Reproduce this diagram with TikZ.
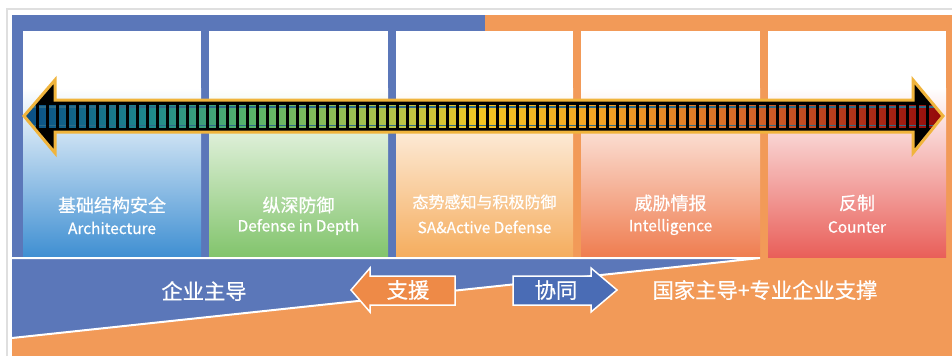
\documentclass[tikz,border=0pt]{standalone}
\usepackage{fontspec}
\setmainfont{Noto Sans CJK SC}[FakeBold=0.6]

\definecolor{frameblue}{HTML}{5B77B9}
\definecolor{frameorange}{HTML}{F29A58}
\definecolor{boxblue}{HTML}{3F8FD2}
\definecolor{boxgreen}{HTML}{82C46C}
\definecolor{boxamber}{HTML}{F5AD5E}
\definecolor{boxcoral}{HTML}{EF7D50}
\definecolor{boxred}{HTML}{E95F59}
\definecolor{rimgold}{HTML}{F0B43C}
\definecolor{stripteal}{HTML}{2E6C8A}
\definecolor{helporange}{HTML}{EE8A47}
\definecolor{helpblue}{HTML}{4A6CB5}
\definecolor{spa}{HTML}{0B4F86}
\definecolor{spb}{HTML}{1F8A8C}
\definecolor{spc}{HTML}{58B46A}
\definecolor{spd}{HTML}{B9C448}
\definecolor{spe}{HTML}{F2C623}
\definecolor{spf}{HTML}{F4A325}
\definecolor{spg}{HTML}{D4652A}
\definecolor{sph}{HTML}{AE3119}
\definecolor{spi}{HTML}{950A0A}

\pgfdeclarehorizontalshading{spectrum}{100bp}{color(0bp)=(spa); color(25bp)=(spa);
  color(31.8bp)=(spb); color(37.2bp)=(spc); color(45.4bp)=(spd); color(49.8bp)=(spe);
  color(56.4bp)=(spf); color(64.6bp)=(spg); color(70.6bp)=(sph); color(75bp)=(spi);
  color(100bp)=(spi)}

\begin{document}
\begin{tikzpicture}[x=1pt,y=-1pt,
  coltitle/.style={text=white,font=\fontsize{18}{20}\selectfont},
  colsub/.style={text=white,font=\fontsize{15.4}{18}\selectfont},
  bandtext/.style={text=white,font=\fontsize{21.3}{25}\selectfont}]
\useasboundingbox (0,0) rectangle (952,356);
\fill[white] (0,0) rectangle (952,356);
\draw[gray!25,line width=1.5] (7,356) -- (7,9) -- (952,9);
\fill[frameblue] (12,15) rectangle (485,258);
\fill[frameorange] (485,15) rectangle (952,258);
\fill[frameorange] (12,258) rectangle (952,356);

\fill[white] (23,31) rectangle (201,257);
\fill[white] (209,31) rectangle (388,257);
\fill[white] (396,31) rectangle (573,257);
\fill[white] (581,31) rectangle (760,257);
\fill[white] (768,31) rectangle (946,257);
\shade[top color=white,bottom color=boxblue] (23,88) rectangle (201,257);
\shade[top color=white,bottom color=boxgreen] (209,88) rectangle (388,257);
\shade[top color=white,bottom color=boxamber] (396,88) rectangle (573,257);
\shade[top color=white,bottom color=boxcoral] (581,88) rectangle (760,257);
\shade[top color=white,bottom color=boxred] (768,88) rectangle (946,257);

\begin{scope}
\clip (24,116) -- (55,80) -- (55,100) -- (913,100) -- (913,80) -- (943,116)
  -- (913,153) -- (913,132) -- (55,132) -- (55,153) -- cycle;
\fill[black] (0,70) rectangle (952,160);
\shade[shading=spectrum] (26,105) rectangle (941,127);
\draw[stripteal,line width=1.5] (26,107) -- (941,107);
\draw[stripteal,line width=1.5] (26,125.5) -- (941,125.5);
\foreach \x in {36,46,...,926}
  \fill[black] (\x,104) rectangle (\x+3,128);
\end{scope}
\draw[rimgold,line width=3,line join=miter] (24,116) -- (55,80) -- (55,100) -- (913,100)
  -- (913,80) -- (943,116) -- (913,153) -- (913,132) -- (55,132) -- (55,153) -- cycle;

\node[coltitle] (arch) at (112,205) {基础结构安全};
\node[colsub] (archen) at (112,228) {Architecture};
\node[coltitle] (depth) at (298.5,205) {纵深防御};
\node[colsub] (depthen) at (298.5,227) {Defense in Depth};
\node[coltitle,font=\fontsize{16}{18}\selectfont] (active) at (484.5,202) {态势感知与积极防御};
\node[colsub] (activeen) at (484.5,227) {SA\&Active Defense};
\node[coltitle] (intel) at (670.5,203) {威胁情报};
\node[colsub] (intelen) at (670.5,227) {Intelligence};
\node[coltitle] (counter) at (857,203) {反制};
\node[colsub] (counteren) at (857,227) {Counter};

\fill[frameblue] (12,258) -- (760,258) -- (12,338) -- cycle;
\draw[white,line width=2] (12,338) -- (760,258) -- (12,258);

\filldraw[fill=helporange,draw=white,line width=1.5] (351,290) -- (370,268) -- (370,276)
  -- (455,276) -- (455,305) -- (370,305) -- (370,312) -- cycle;
\filldraw[fill=helpblue,draw=white,line width=1.5] (513,276) -- (591,276) -- (591,268)
  -- (617,290) -- (591,312) -- (591,305) -- (513,305) -- cycle;

\node[bandtext] (firm) at (204,291) {企业主导};
\node[bandtext] (support) at (408,290) {支援};
\node[bandtext] (coop) at (556,290) {协同};
\node[bandtext] (state) at (765,290) {国家主导+专业企业支撑};
\end{tikzpicture}
\end{document}
